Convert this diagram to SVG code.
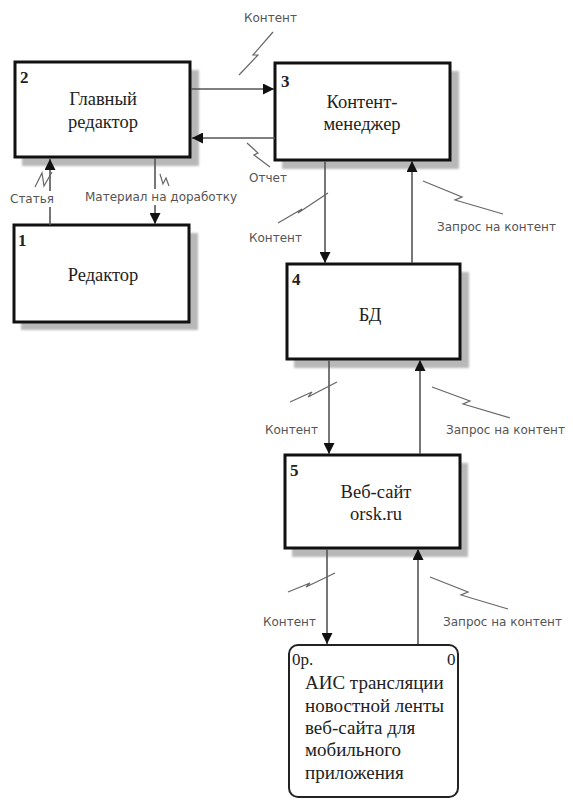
<svg xmlns="http://www.w3.org/2000/svg" width="573" height="803" viewBox="0 0 573 803">
<defs>
<marker id="ah" viewBox="0 0 10 10" refX="10" refY="5" markerWidth="11" markerHeight="11" markerUnits="userSpaceOnUse" orient="auto">
<path d="M0,0 L10,5 L0,10 z" fill="#111"/>
</marker>
<filter id="blur" x="-10%" y="-10%" width="120%" height="120%"><feGaussianBlur stdDeviation="1.2"/></filter>
</defs>
<style>
.box{fill:#fff;stroke:#111;stroke-width:3}
.shadow{fill:#b8b8b8;filter:url(#blur)}
.ttl{font-family:"Liberation Serif",serif;font-size:18.5px;fill:#222;text-anchor:middle}
.ttl0{font-family:"Liberation Serif",serif;font-size:19px;fill:#222}
.num{font-family:"Liberation Serif",serif;font-size:17px;font-weight:bold;fill:#222}
.num0{font-family:"Liberation Serif",serif;font-size:17px;fill:#222}
.lbl{font-family:"DejaVu Sans","Open Sans",sans-serif;font-size:12px;fill:#555}
.lblbg{fill:#fff}
.arr{fill:none;stroke:#555;stroke-width:1.6;marker-end:url(#ah)}
.sq{fill:none;stroke:#666;stroke-width:1.2}
</style>
<rect width="573" height="803" fill="#fff"/>

<g id="node2">
<rect class="shadow" x="22" y="70" width="177" height="96"/>
<rect class="box" x="15" y="62" width="175" height="95"/>
<text class="num" x="20" y="83">2</text>
<text class="ttl" x="103" y="105">Главный</text>
<text class="ttl" x="103" y="128">редактор</text>
</g>

<g id="node3">
<rect class="shadow" x="282" y="71" width="177" height="98"/>
<rect class="box" x="275" y="63" width="175" height="97"/>
<text class="num" x="281" y="87">3</text>
<text class="ttl" x="362" y="108">Контент-</text>
<text class="ttl" x="362" y="130">менеджер</text>
</g>

<g id="node1">
<rect class="shadow" x="21" y="233" width="177" height="97"/>
<rect class="box" x="14" y="225" width="175" height="97"/>
<text class="num" x="18" y="246">1</text>
<text class="ttl" x="103" y="281">Редактор</text>
</g>

<g id="node4">
<rect class="shadow" x="294" y="272" width="175" height="96"/>
<rect class="box" x="287" y="264" width="173" height="95"/>
<text class="num" x="292" y="285">4</text>
<text class="ttl" x="370" y="321">БД</text>
</g>

<g id="node5">
<rect class="shadow" x="292" y="463" width="176" height="94"/>
<rect class="box" x="285" y="455" width="175" height="93"/>
<text class="num" x="290" y="476">5</text>
<text class="ttl" x="376" y="498">Веб-сайт</text>
<text class="ttl" x="376" y="520">orsk.ru</text>
</g>

<g id="node0">
<rect x="289" y="645" width="169" height="152" rx="9" fill="#fff" stroke="#222" stroke-width="2"/>
<text class="num0" x="292" y="665">0р.</text>
<text class="num0" x="447" y="665">0</text>
<text class="ttl0" x="305" y="689">АИС трансляции</text>
<text class="ttl0" x="305" y="712">новостной ленты</text>
<text class="ttl0" x="305" y="734">веб-сайта для</text>
<text class="ttl0" x="305" y="756">мобильного</text>
<text class="ttl0" x="305" y="779">приложения</text>
</g>

<g id="connectors">
<line class="arr" x1="191" y1="89" x2="274" y2="89"/>
<line class="arr" x1="275" y1="138" x2="192" y2="138"/>
<line class="arr" x1="50" y1="225" x2="50" y2="159"/>
<line class="arr" x1="155" y1="158" x2="155" y2="224"/>
<line class="arr" x1="325" y1="161" x2="325" y2="263"/>
<line class="arr" x1="412" y1="263" x2="412" y2="161"/>
<line class="arr" x1="329" y1="360" x2="329" y2="454"/>
<line class="arr" x1="420" y1="454" x2="420" y2="360"/>
<line class="arr" x1="327" y1="549" x2="327" y2="644"/>
<line class="arr" x1="418" y1="644" x2="418" y2="549"/>

<polyline class="sq" points="273,32 253,55 258,55 239,75"/>
<polyline class="sq" points="247,143 258,153 254,155 270,167"/>
<polyline class="sq" points="35,187 42,173 44,186 52,172"/>
<polyline class="sq" points="160,174 163,184 166,178 169,186"/>
<polyline class="sq" points="278,223 302,209 298,213 328,193"/>
<polyline class="sq" points="423,181 462,197 455,200 503,214"/>
<polyline class="sq" points="290,402 312,392 308,397 337,382"/>
<polyline class="sq" points="432,387 470,401 463,404 510,418"/>
<polyline class="sq" points="288,592 310,583 306,587 335,573"/>
<polyline class="sq" points="430,577 468,592 461,595 508,609"/>

<rect class="lblbg" x="8" y="191" width="48" height="16"/>
<rect class="lblbg" x="83" y="189" width="156" height="16"/>
<text class="lbl" x="244" y="22">Контент</text>
<text class="lbl" x="249" y="182">Отчет</text>
<text class="lbl" x="10" y="203">Статья</text>
<text class="lbl" x="85" y="201">Материал на доработку</text>
<text class="lbl" x="249" y="242">Контент</text>
<text class="lbl" x="437" y="231">Запрос на контент</text>
<text class="lbl" x="265" y="434">Контент</text>
<text class="lbl" x="446" y="434">Запрос на контент</text>
<text class="lbl" x="263" y="626">Контент</text>
<text class="lbl" x="443" y="626">Запрос на контент</text>
</g>
</svg>
